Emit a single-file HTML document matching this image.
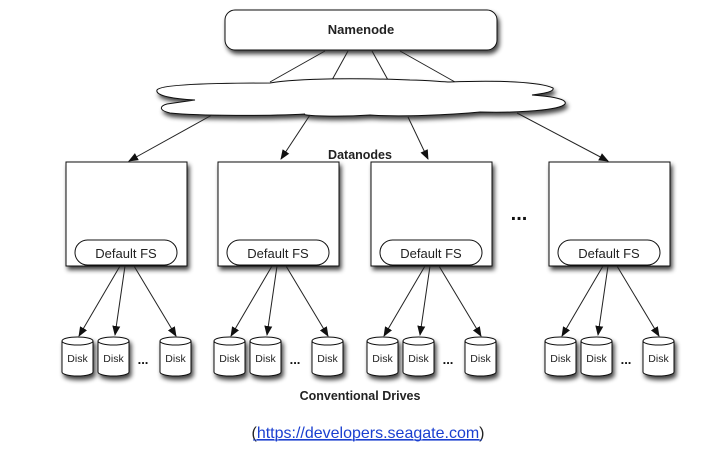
<!DOCTYPE html>
<html><head><meta charset="utf-8"><style>
html,body{margin:0;padding:0;background:#fff;width:714px;height:460px;overflow:hidden}
svg{display:block}
text{font-family:"Liberation Sans",Arial,sans-serif}
</style></head><body>
<svg width="714" height="460" viewBox="0 0 714 460" xmlns="http://www.w3.org/2000/svg">
<defs>
<marker id="ar" markerWidth="10" markerHeight="10" refX="9" refY="5" orient="auto" markerUnits="userSpaceOnUse">
<path d="M0,1 L10,5 L0,9 Z" fill="#111"/></marker>
<filter id="sh" x="-20%" y="-20%" width="150%" height="160%"><feGaussianBlur in="SourceAlpha" stdDeviation="2.5"/><feOffset dx="2" dy="3.5"/><feComponentTransfer><feFuncA type="linear" slope="0.75"/></feComponentTransfer><feMerge><feMergeNode/><feMergeNode in="SourceGraphic"/></feMerge></filter>
<g id="disk">
<path d="M0,4 L0,35 A15.5,4 0 0 0 31,35 L31,4" fill="#fff" stroke="#111" stroke-width="1"/>
<ellipse cx="15.5" cy="4" rx="15.5" ry="4" fill="#fff" stroke="#111" stroke-width="1"/>
<text x="15.5" y="25" font-size="10.5" text-anchor="middle" fill="#222">Disk</text>
</g>
</defs>

<rect x="225" y="10" width="272" height="40" rx="10" fill="#fff" stroke="#111" filter="url(#sh)"/>
<text x="361" y="34" font-size="13" font-weight="bold" text-anchor="middle" fill="#222">Namenode</text>

<g stroke="#222" stroke-width="1">
<line x1="325" y1="51" x2="270" y2="82"/>
<line x1="348" y1="51" x2="332" y2="80"/>
<line x1="372" y1="51" x2="388" y2="80"/>
<line x1="400" y1="51" x2="455" y2="82"/>
</g>

<path filter="url(#sh)" fill="#fff" stroke="#111" stroke-width="1" d="M270,83 C300,78 360,78 410,80 C430,80 440,82 450,82 C500,80 540,82 553,88 C555,92 540,94 532,95 C545,96 568,98 565,104 C560,110 520,113 480,112 C450,115 400,117 370,115 C340,117 300,116 305,114 C270,116 200,116 170,113 C158,110 160,106 167,104 L195,100 C175,99 155,96 157,90 C160,85 200,83 270,83 Z"/>

<g stroke="#222" stroke-width="1" marker-end="url(#ar)">
<line x1="212" y1="115" x2="129" y2="161"/>
<line x1="310" y1="115" x2="281" y2="159"/>
<line x1="408" y1="117" x2="428" y2="159"/>
<line x1="517" y1="113" x2="608" y2="161"/>
</g>
<text x="360" y="159" font-size="12.5" font-weight="bold" text-anchor="middle" fill="#222">Datanodes</text>
<text x="519" y="220" font-size="20" font-weight="bold" text-anchor="middle" fill="#111">...</text>

<g id="col1" transform="translate(66,0)">
<rect x="0" y="162" width="121" height="104" fill="#fff" stroke="#111" filter="url(#sh)"/>
<rect x="9" y="240" width="102" height="25" rx="12.5" fill="#fff" stroke="#111"/>
<text x="60" y="258" font-size="13" text-anchor="middle" fill="#222">Default FS</text>
<g stroke="#222" stroke-width="1" marker-end="url(#ar)">
<line x1="54" y1="266" x2="13" y2="336"/>
<line x1="59" y1="266" x2="49" y2="335"/>
<line x1="68" y1="266" x2="110" y2="336"/>
</g>
<g filter="url(#sh)">
<use href="#disk" x="-4" y="337"/>
<use href="#disk" x="32" y="337"/>
<use href="#disk" x="94" y="337"/>
</g>
<text x="77" y="364" font-size="13" font-weight="bold" text-anchor="middle" fill="#111">...</text>
</g>
<use href="#col1" x="152"/>
<use href="#col1" x="305"/>
<use href="#col1" x="483"/>

<text x="360" y="400" font-size="12.5" font-weight="bold" text-anchor="middle" fill="#222">Conventional Drives</text>
<text x="368" y="438" font-size="16" text-anchor="middle" fill="#222">(<tspan fill="#1a3fd0" text-decoration="underline">https://developers.seagate.com</tspan>)</text>
<line x1="253" y1="440" x2="482" y2="440" stroke="#1a3fd0" stroke-width="1"/>
</svg>
</body></html>
